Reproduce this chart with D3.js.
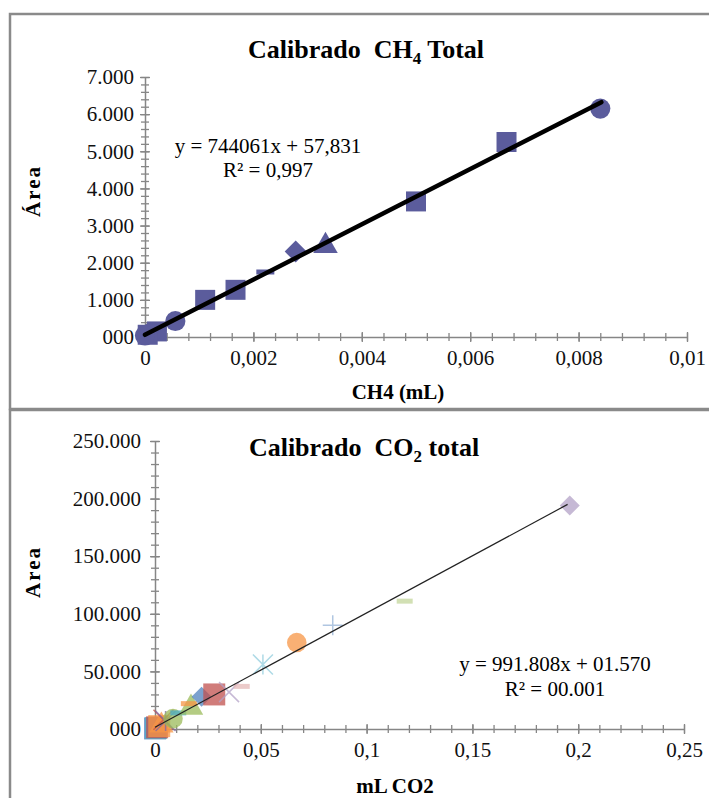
<!DOCTYPE html>
<html><head><meta charset="utf-8">
<script src="https://cdn.jsdelivr.net/npm/d3@7"></script>
<style>
body{margin:0;background:#fff;}
svg{display:block;font-family:"Liberation Serif","Times New Roman",serif;}
</style></head>
<body><svg id="c" width="709" height="798"></svg>
<script>
// ---------- DATA: CH4 ----------
const ch4X = [0.0084, 0.00667, 0.0050, 0.00333, 0.00278, 0.00222, 0.00167, 0.00111, 0.00056, 0.00022, 0.00011, 0.00005, 0.0];
const ch4Y = [6150, 5250, 3650, 2450, 2300, 1750, 1270, 1000, 430, 150, 110, 60, 40];
const ch4Shape = ["circle","square","square","triangle","diamond","dash","square","square","circle","square","circle","square","circle"];
const ch4XTicks = ["0","0,002","0,004","0,006","0,008","0,01"];
const ch4YTicks = ["000","1.000","2.000","3.000","4.000","5.000","6.000","7.000"];
const ch4Slope = 744061, ch4Intercept = 57.831;

// ---------- DATA: CO2 ----------
const co2X = [0.196, 0.118, 0.084, 0.067, 0.051, 0.041, 0.035, 0.028, 0.022, 0.016, 0.017, 0.011, 0.0085, 0.005, 0.004, 0.003, 0.002, 0.001, 0.0005, 0.0];
const co2Y = [194000, 111000, 90000, 75000, 56000, 37000, 32000, 30000, 28000, 22000, 18500, 14000, 9000, 7000, 8000, 3000, 2500, 1500, 800, 500];
const co2Shape = ["diamond","dash","plus","circle","asterisk","dash","x","square","diamond","dash","triangle","dash","circle","asterisk","x","triangle","square","square","square","square"];
const co2Color = ["#b3a2c7","#c3d69b","#95b3d7","#f79646","#93cddd","#e6b9b8","#b3a2c7","#c0504d","#4f81bd","#f79646","#9bbb59","#4bacc6","#9bbb59","#8064a2","#c0504d","#f79646","#f79646","#c0504d","#4bacc6","#4f81bd"];
const co2XTicks = ["0","0,05","0,1","0,15","0,2","0,25"];
const co2YTicks = ["000","50.000","100.000","150.000","200.000","250.000"];
const co2Slope = 991808, co2Intercept = 1570;

const svg = d3.select("#c");
const axisCol = "#868686";
const tickFont = 21;

// panel frames
svg.append("rect").attr("x",10).attr("y",14).attr("width",720).attr("height",395)
  .attr("fill","none").attr("stroke","#8a8a8a").attr("stroke-width",2.5);
svg.append("rect").attr("x",10).attr("y",410).attr("width",720).attr("height",400)
  .attr("fill","none").attr("stroke","#8a8a8a").attr("stroke-width",2.5);

function markerPath(shape, s){
  const h = s/2;
  switch(shape){
    case "circle": return d3.symbol(d3.symbolCircle, s*s*0.8)();
    case "square": return d3.symbol(d3.symbolSquare, s*s)();
    case "diamond": return `M0,${-h}L${h},0L0,${h}L${-h},0Z`;
    case "triangle": return d3.symbol(d3.symbolTriangle, s*s*0.65)();
    case "dash": return `M${-h},-2.5H${h}V2.5H${-h}Z`;
    case "plus": return `M${-h},0H${h}M0,${-h}V${h}`;
    case "x": return `M${-h},${-h}L${h},${h}M${-h},${h}L${h},${-h}`;
    case "asterisk": return `M${-h},${-h}L${h},${h}M${-h},${h}L${h},${-h}M0,${-h}V${h}`;
  }
}
const lineShapes = new Set(["plus","x","asterisk"]);

function buildAxes(g, x, y, xMinor, yMinor, xLabels, yLabels, xTickVals, yTickVals, ylabPad){
  const xa = d3.axisBottom(x).tickValues(xMinor).tickSize(0).tickFormat("");
  const gxm = g.append("g").attr("transform",`translate(0,${y.range()[0]})`).call(xa);
  gxm.selectAll(".tick line").attr("y1",-4).attr("y2",4).attr("stroke",axisCol).attr("stroke-width",1.3);
  gxm.select(".domain").remove();
  const ya = d3.axisLeft(y).tickValues(yMinor).tickSize(0).tickFormat("");
  const gym = g.append("g").attr("transform",`translate(${x.range()[0]},0)`).call(ya);
  gym.selectAll(".tick line").attr("x1",-4).attr("x2",4).attr("stroke",axisCol).attr("stroke-width",1.3);
  gym.select(".domain").remove();
  const xA = d3.axisBottom(x).tickValues(xTickVals).tickSize(0).tickPadding(13)
     .tickFormat((d,i)=>xLabels[i]);
  const gx = g.append("g").attr("transform",`translate(0,${y.range()[0]})`).call(xA);
  gx.select(".domain").attr("stroke",axisCol).attr("stroke-width",1.5);
  gx.selectAll(".tick line").attr("y1",-5).attr("y2",5).attr("stroke",axisCol).attr("stroke-width",1.3);
  gx.selectAll("text").attr("font-size",tickFont).attr("font-family","Liberation Serif").attr("fill","#111");
  const yA = d3.axisLeft(y).tickValues(yTickVals).tickSize(0).tickPadding(ylabPad)
     .tickFormat((d,i)=>yLabels[i]);
  const gy = g.append("g").attr("transform",`translate(${x.range()[0]},0)`).call(yA);
  gy.select(".domain").attr("stroke",axisCol).attr("stroke-width",1.5);
  gy.selectAll(".tick line").attr("x1",-5).attr("x2",5).attr("stroke",axisCol).attr("stroke-width",1.3);
  gy.selectAll("text").attr("font-size",tickFont).attr("font-family","Liberation Serif").attr("fill","#111");
}

// ================= CH4 chart =================
{
  const g = svg.append("g");
  const x = d3.scaleLinear().domain([0,0.01]).range([145,687]);
  const y = d3.scaleLinear().domain([0,7000]).range([337,77]);
  const xMinor = d3.range(0,0.01+1e-9,0.0004);
  const yMinor = d3.range(0,7000+1,200);
  buildAxes(g,x,y,xMinor,yMinor,ch4XTicks,ch4YTicks,d3.range(0,0.0101,0.002),d3.range(0,7001,1000),11);

  g.selectAll("path.pt").data(ch4X).join("path").attr("class","pt")
    .attr("transform",(d,i)=>`translate(${x(d)},${y(ch4Y[i])})`)
    .attr("d",(d,i)=>markerPath(ch4Shape[i], ch4Shape[i]==="dash"?18:(ch4Shape[i]==="diamond"?22:20)))
    .attr("fill","#5b5c9c");

  const xe = 0.00842;
  g.append("line").attr("x1",x(0)).attr("y1",y(ch4Intercept))
    .attr("x2",x(xe)).attr("y2",y(ch4Slope*xe+ch4Intercept))
    .attr("stroke","#000").attr("stroke-width",4.5).attr("stroke-linecap","round");

  const t = g.append("text").attr("x",366).attr("y",58).attr("text-anchor","middle")
    .attr("font-size",26).attr("font-weight","bold");
  t.append("tspan").text("Calibrado\u00a0 CH");
  t.append("tspan").attr("font-size",17).attr("dy",6).text("4");
  t.append("tspan").attr("dy",-6).text(" Total");

  g.append("text").attr("x",268).attr("y",153).attr("text-anchor","middle").attr("font-size",21)
    .text("y = 744061x + 57,831");
  g.append("text").attr("x",268).attr("y",177).attr("text-anchor","middle").attr("font-size",21)
    .text("R² = 0,997");

  g.append("text").attr("transform","translate(40,191) rotate(-90)").attr("text-anchor","middle")
    .attr("font-size",21).attr("font-weight","bold").attr("letter-spacing",2).text("Área");
  g.append("text").attr("x",398).attr("y",399).attr("text-anchor","middle")
    .attr("font-size",21).attr("font-weight","bold").text("CH4 (mL)");
}

// ================= CO2 chart =================
{
  const g = svg.append("g");
  const x = d3.scaleLinear().domain([0,0.25]).range([155,684]);
  const y = d3.scaleLinear().domain([0,250000]).range([729,441]);
  const xMinor = d3.range(0,0.25+1e-9,0.01);
  const yMinor = d3.range(0,250001,10000);
  buildAxes(g,x,y,xMinor,yMinor,co2XTicks,co2YTicks,d3.range(0,0.2501,0.05),d3.range(0,250001,50000),14);

  const idx = d3.range(co2X.length).reverse();
  g.selectAll("path.pt").data(idx).join("path").attr("class","pt")
    .attr("transform",i=>`translate(${x(co2X[i])},${y(co2Y[i])})`)
    .attr("d",i=>{
      const s = co2Shape[i];
      if(s==="dash") return markerPath(s,16);
      if(s==="circle") return d3.symbol(d3.symbolCircle, 300)();
      return markerPath(s, s==="square"?22:20);
    })
    .attr("fill",i=>lineShapes.has(co2Shape[i])?"none":co2Color[i])
    .attr("stroke",i=>lineShapes.has(co2Shape[i])?co2Color[i]:"none")
    .attr("stroke-width",1.5)
    .attr("opacity",0.75);

  const xe = 0.195;
  g.append("line").attr("x1",x(0)).attr("y1",y(co2Intercept))
    .attr("x2",x(xe)).attr("y2",y(co2Slope*xe+co2Intercept))
    .attr("stroke","#222").attr("stroke-width",1.2);

  const t = g.append("text").attr("x",364).attr("y",456).attr("text-anchor","middle")
    .attr("font-size",26).attr("font-weight","bold");
  t.append("tspan").text("Calibrado\u00a0 CO");
  t.append("tspan").attr("font-size",17).attr("dy",6).text("2");
  t.append("tspan").attr("dy",-6).text(" total");

  g.append("text").attr("x",555).attr("y",671).attr("text-anchor","middle").attr("font-size",21)
    .text("y = 991.808x + 01.570");
  g.append("text").attr("x",555).attr("y",696).attr("text-anchor","middle").attr("font-size",21)
    .text("R² = 00.001");

  g.append("text").attr("transform","translate(40,572) rotate(-90)").attr("text-anchor","middle")
    .attr("font-size",21).attr("font-weight","bold").attr("letter-spacing",2).text("Area");
  g.append("text").attr("x",395).attr("y",793).attr("text-anchor","middle")
    .attr("font-size",21).attr("font-weight","bold").text("mL CO2");
}
</script></body></html>
